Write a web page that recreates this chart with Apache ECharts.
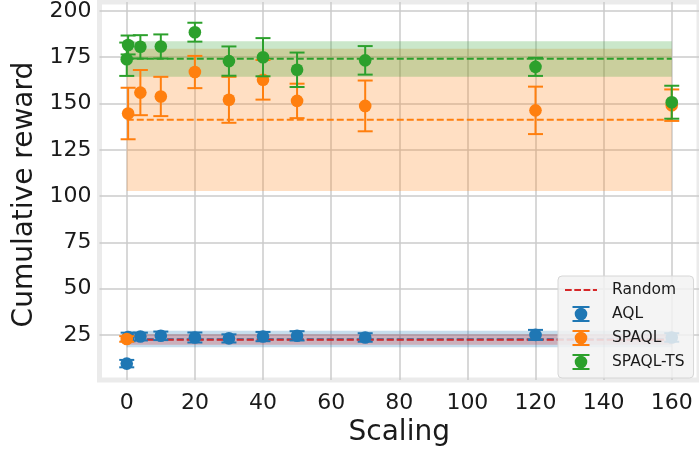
<!DOCTYPE html>
<html>
<head>
<meta charset="utf-8">
<script src="https://cdn.jsdelivr.net/npm/echarts@6/dist/echarts.min.js"></script>
<style>
  html, body { margin: 0; padding: 0; background: #ffffff; }
  #chart { width: 699px; height: 452px; }
</style>
</head>
<body>
<div id="chart"></div>
<script>
// Scaling values on the x axis (two runs sit at scaling ~0)
const scaling = [0, 0.4, 4, 10, 20, 30, 40, 50, 70, 120, 160];

// Cumulative reward per method, with error bar half-lengths
const aqlReward   = [9.6, 24.0, 24.2, 24.6, 23.7, 23.2, 24.2, 24.6, 23.7, 25.1, 23.7];
const aqlErr      = [2.0, 2.3, 2.1, 2.3, 2.7, 2.2, 2.5, 2.5, 2.3, 2.7, 2.3];
const spaqlReward = [22.9, 144.6, 155.9, 153.8, 167.0, 152.0, 162.8, 151.4, 148.7, 146.3, 149.1];
const spaqlErr    = [1.5, 13.9, 12.2, 10.6, 8.7, 12.4, 10.7, 9.3, 13.7, 12.8, 8.5];
const tsReward    = [173.9, 181.6, 180.6, 180.8, 188.5, 172.9, 175.0, 168.2, 173.3, 169.8, 150.7];
const tsErr       = [9.0, 5.1, 6.3, 6.5, 5.1, 7.9, 10.3, 9.3, 7.7, 4.9, 8.9];

// Mean line and shaded spread for each method over the scaling range
const bandRange   = [0, 160];
const randomBand  = { mean: 22.5, lo: 19.8, hi: 25.5 };
const aqlBand     = { mean: 22.8, lo: 18.4, hi: 27.4 };
const spaqlBand   = { mean: 141.2, lo: 102.8, hi: 179.6 };
const tsBand      = { mean: 174.1, lo: 164.4, hi: 183.6 };

// Axis tick labels
const xTicks = [0, 20, 40, 60, 80, 100, 120, 140, 160];
const yTicks = [25, 50, 75, 100, 125, 150, 175, 200];

const C_BLUE = '#1f77b4', C_ORANGE = '#ff7f0e', C_GREEN = '#2ca02c', C_RED = '#d62728';
const FONT = 'DejaVu Sans';

function hexA(hex, a) {
  const n = parseInt(hex.slice(1), 16);
  return 'rgba(' + (n >> 16) + ',' + ((n >> 8) & 255) + ',' + (n & 255) + ',' + a + ')';
}

function bandSeries(name, band, color, z) {
  return {
    name: name,
    type: 'line',
    z: z,
    silent: true,
    symbol: 'none',
    data: [[bandRange[0], band.mean], [bandRange[1], band.mean]],
    lineStyle: { color: color, width: 2, type: [7, 3] },
    itemStyle: { color: color },
    markArea: {
      silent: true,
      itemStyle: { color: hexA(color, 0.25) },
      data: [[{ coord: [bandRange[0], band.lo] }, { coord: [bandRange[1], band.hi] }]]
    }
  };
}

function errorSeries(name, values, errs, color, z) {
  return {
    name: name,
    type: 'custom',
    z: z,
    itemStyle: { color: color },
    encode: { x: 0, y: 1 },
    data: scaling.map((s, i) => [s, values[i], errs[i]]),
    renderItem: function (params, api) {
      const x = api.value(0), y = api.value(1), e = api.value(2);
      const c = api.coord([x, y]);
      const t = api.coord([x, y + e]);
      const b = api.coord([x, y - e]);
      const col = api.visual('color');
      const ls = { stroke: col, lineWidth: 2 };
      return {
        type: 'group',
        children: [
          { type: 'line', shape: { x1: c[0], y1: t[1], x2: c[0], y2: b[1] }, style: ls },
          { type: 'line', shape: { x1: c[0] - 7.5, y1: t[1], x2: c[0] + 7.5, y2: t[1] }, style: ls },
          { type: 'line', shape: { x1: c[0] - 7.5, y1: b[1], x2: c[0] + 7.5, y2: b[1] }, style: ls },
          { type: 'circle', shape: { cx: c[0], cy: c[1], r: 6.3 }, style: { fill: col } }
        ]
      };
    }
  };
}

// Legend glyphs in a 32x18 box; tiny corner dots keep the box size fixed
const boxCorners = 'M0,0h0.01v0.01h-0.01Z M31.99,17.99h0.01v0.01h-0.01Z ';
const errIcon = 'path://' + boxCorners +
  'M7.5,1h17v2h-17Z M7.5,15h17v2h-17Z M15,1h2v16h-2Z ' +
  'M9.7,9a6.3,6.3 0 1,1 12.6,0a6.3,6.3 0 1,1 -12.6,0Z';
const dashIcon = 'path://' + boxCorners +
  'M0,8h6.7v2h-6.7Z M9.3,8h6.7v2h-6.7Z M18.6,8h6.7v2h-6.7Z M27.9,8h4.1v2h-4.1Z';

const chart = echarts.init(document.getElementById('chart'), null, { renderer: 'canvas' });

chart.setOption({
  animation: false,
  backgroundColor: '#ffffff',
  grid: {
    left: 99.5, top: 1, right: -6, bottom: 67,
    show: true, backgroundColor: '#ffffff', borderColor: '#ebebeb', borderWidth: 5
  },
  xAxis: {
    type: 'value', min: -8, max: 168, minInterval: 20, maxInterval: 20, splitNumber: 9,
    name: 'Scaling', nameLocation: 'middle', nameGap: 36,
    nameTextStyle: { fontFamily: FONT, fontSize: 28, color: '#1a1a1a' },
    axisLine: { show: false }, axisTick: { show: false },
    axisLabel: {
      fontFamily: FONT, fontSize: 22, color: '#1a1a1a', margin: 12,
      showMinLabel: false, showMaxLabel: false,
      formatter: v => (xTicks.indexOf(v) >= 0 ? String(v) : '')
    },
    splitLine: { show: true, showMinLine: false, showMaxLine: false, lineStyle: { color: '#cbcbcb', width: 1.5 } }
  },
  yAxis: {
    type: 'value', min: 0.7, max: 204.8, minInterval: 25, maxInterval: 25, splitNumber: 8,
    name: 'Cumulative reward', nameLocation: 'middle', nameGap: 58,
    nameTextStyle: { fontFamily: FONT, fontSize: 28, color: '#1a1a1a', padding: [0, 7, 0, 0] },
    axisLine: { show: false }, axisTick: { show: false },
    axisLabel: {
      fontFamily: FONT, fontSize: 22, color: '#1a1a1a', margin: 8,
      showMinLabel: false, showMaxLabel: false,
      formatter: v => (yTicks.indexOf(v) >= 0 ? String(v) : '')
    },
    splitLine: { show: true, showMinLine: false, showMaxLine: false, lineStyle: { color: '#cbcbcb', width: 1.5 } }
  },
  legend: {
    orient: 'vertical', left: 558, top: 276,
    padding: [5, 9, 7, 7], itemWidth: 32, itemHeight: 18, itemGap: 6,
    backgroundColor: 'rgba(242,242,242,0.85)', borderColor: '#d6d6d6', borderWidth: 1, borderRadius: 4,
    textStyle: { fontFamily: FONT, fontSize: 15.5, color: '#1a1a1a', padding: [0, 0, 0, 10] },
    data: [
      { name: 'Random', icon: dashIcon },
      { name: 'AQL', icon: errIcon },
      { name: 'SPAQL', icon: errIcon },
      { name: 'SPAQL-TS', icon: errIcon }
    ]
  },
  series: [
    bandSeries('AQL mean', aqlBand, C_BLUE, 1),
    bandSeries('SPAQL mean', spaqlBand, C_ORANGE, 1),
    bandSeries('SPAQL-TS mean', tsBand, C_GREEN, 1),
    bandSeries('Random', randomBand, C_RED, 1),
    errorSeries('AQL', aqlReward, aqlErr, C_BLUE, 3),
    errorSeries('SPAQL', spaqlReward, spaqlErr, C_ORANGE, 3),
    errorSeries('SPAQL-TS', tsReward, tsErr, C_GREEN, 3)
  ]
});
</script>
</body>
</html>
